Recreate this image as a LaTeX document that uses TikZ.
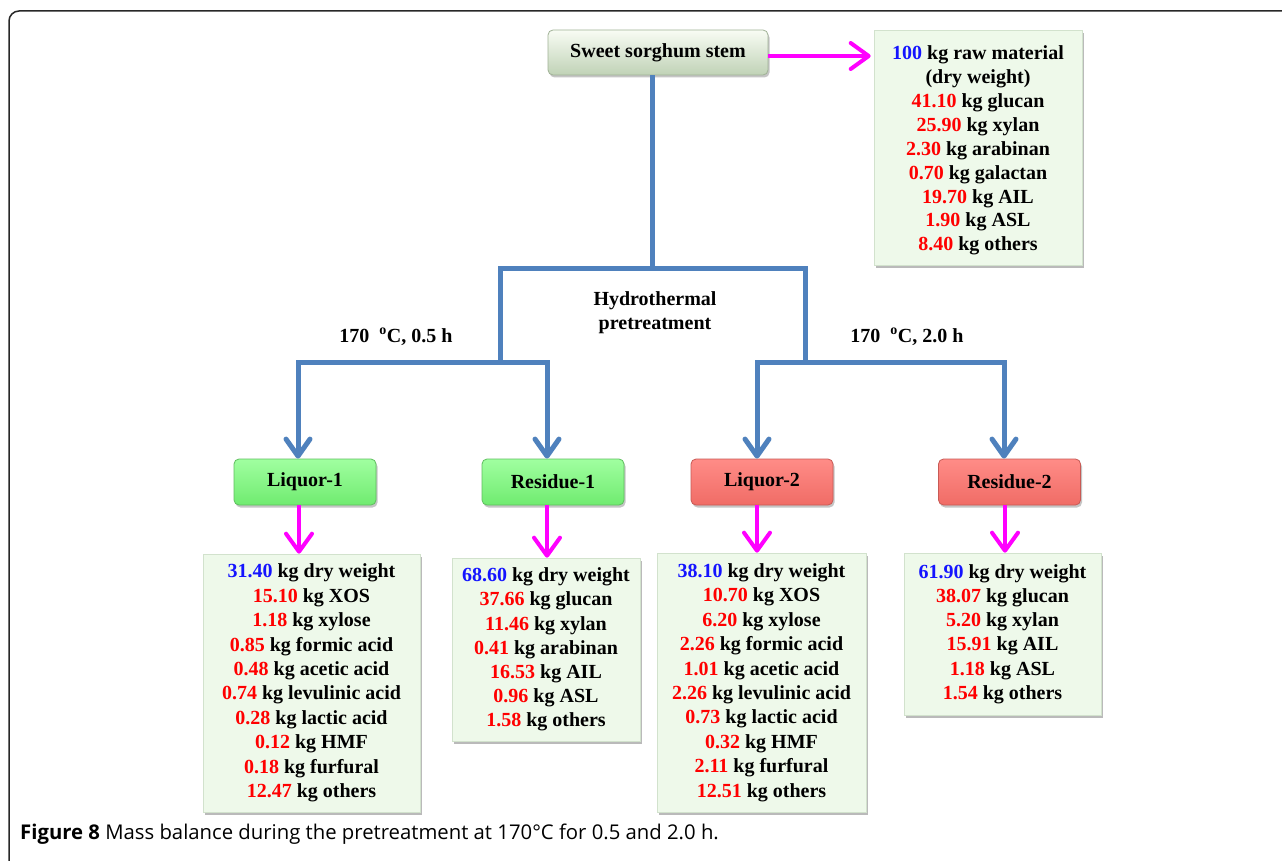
\documentclass[tikz,border=0pt]{standalone}
\usepackage{fontspec}
\setmainfont{Liberation Serif}
\newfontfamily\captfont{Open Sans}
\usetikzlibrary{arrows.meta,shadows}
\definecolor{lineblue}{RGB}{79,129,189}
\definecolor{mag}{RGB}{255,0,255}
\definecolor{numred}{RGB}{255,0,0}
\definecolor{numblue}{RGB}{20,20,255}
\definecolor{datafill}{RGB}{238,249,234}
\definecolor{dataline}{RGB}{210,226,205}
\definecolor{frameclr}{RGB}{40,40,40}
\newcommand{\nr}[1]{\textcolor{numred}{#1}}
\newcommand{\nb}[1]{\textcolor{numblue}{#1}}
\begin{document}
\begin{tikzpicture}[x=1pt,y=-1pt,
  txt/.style={font=\fontsize{20}{24.2}\selectfont\bfseries, align=center, inner sep=0pt},
  databox/.style={txt, draw=dataline, line width=0.6pt, fill=datafill,
    drop shadow={shadow xshift=2pt, shadow yshift=-3pt, fill=black!45, opacity=0.6}},
  tenline/.style={font=\fontsize{20}{24.4}\selectfont\bfseries},
  catbox/.style={txt, rounded corners=5pt, line width=0.8pt, minimum width=142, minimum height=46,
    drop shadow={shadow xshift=1.5pt, shadow yshift=-2.5pt, fill=black!45, opacity=0.5}},
  greenbox/.style={catbox, draw={rgb,255:red,95;green,190;blue,95}, top color={rgb,255:red,160;green,255;blue,160}, bottom color={rgb,255:red,112;green,235;blue,112}},
  redbox/.style={catbox, draw={rgb,255:red,200;green,90;blue,85}, top color={rgb,255:red,255;green,140;blue,135}, bottom color={rgb,255:red,240;green,108;blue,102}},
  stembox/.style={catbox, minimum width=220, minimum height=45, draw={rgb,255:red,160;green,178;blue,150}, top color={rgb,255:red,248;green,252;blue,244}, bottom color={rgb,255:red,192;green,210;blue,182}},
  bline/.style={draw=lineblue, line width=5pt, line join=miter},
  barrow/.style={bline, -{Straight Barb[length=17pt, width=24pt, round]}},
  marrow/.style={draw=mag, line width=4pt, -{Straight Barb[length=18pt, width=26pt, round]}},
  lbl/.style={font=\fontsize{20}{24}\selectfont\bfseries, align=center, inner sep=0pt}
]
\useasboundingbox (0,0) rectangle (1282,861);
\fill[white] (0,0) rectangle (1282,861);
\draw[frameclr, line width=1.5pt, rounded corners=10pt] (9,870) -- (9,11) -- (1290,11);

% category nodes
\node[stembox] (stem) at (658,52.5) {\raisebox{-1pt}{Sweet sorghum stem}};
\node[greenbox] (liq1) at (305,482) {\raisebox{-1.5pt}{Liquor-1}};
\node[greenbox] (res1) at (553,482) {\raisebox{-1.5pt}{Residue-1}};
\node[redbox] (liq2) at (762,482) {\raisebox{-1.5pt}{Liquor-2}};
\node[redbox] (res2) at (1009.5,482) {\raisebox{-1.5pt}{Residue-2}};

% data boxes
\node[databox, minimum width=208, minimum height=235, font=\fontsize{20}{23.9}\selectfont\bfseries] (raw) at (978,147.5) {%
\rule{0pt}{20pt}\nb{100} kg raw material\\(dry weight)\\\nr{41.10} kg glucan\\\nr{25.90} kg xylan\\\nr{2.30} kg arabinan\\\nr{0.70} kg galactan\\\nr{19.70} kg AIL\\\nr{1.90} kg ASL\\\nr{8.40} kg others};
\node[databox, tenline, minimum width=217, minimum height=258] (d1) at (311.5,683) {%
\nb{31.40} kg dry weight\\\nr{15.10} kg XOS\\\nr{1.18} kg xylose\\\nr{0.85} kg formic acid\\\nr{0.48} kg acetic acid\\\nr{0.74} kg levulinic acid\\\nr{0.28} kg lactic acid\\\nr{0.12} kg HMF\\\nr{0.18} kg furfural\\\nr{12.47} kg others};
\node[databox, minimum width=188, minimum height=183] (d2) at (546,649.5) {%
\nb{68.60} kg dry weight\\\nr{37.66} kg glucan\\\nr{11.46} kg xylan\\\nr{0.41} kg arabinan\\\nr{16.53} kg AIL\\\nr{0.96} kg ASL\\\nr{1.58} kg others};
\node[databox, tenline, minimum width=209, minimum height=259] (d3) at (761.5,682.5) {%
\nb{38.10} kg dry weight\\\nr{10.70} kg XOS\\\nr{6.20} kg xylose\\\nr{2.26} kg formic acid\\\nr{1.01} kg acetic acid\\\nr{2.26} kg levulinic acid\\\nr{0.73} kg lactic acid\\\nr{0.32} kg HMF\\\nr{2.11} kg furfural\\\nr{12.51} kg others};
\node[databox, minimum width=197, minimum height=162] (d4) at (1002.5,634) {%
\nb{61.90} kg dry weight\\\nr{38.07} kg glucan\\\nr{5.20} kg xylan\\\nr{15.91} kg AIL\\\nr{1.18} kg ASL\\\nr{1.54} kg others};

% labels
\node[lbl] (hyd) at (655,313) {Hydrothermal\\pretreatment};
\node[lbl] (c1) at (396,337) {170 \ \textsuperscript{o}C, 0.5 h};
\node[lbl] (c2) at (907,337) {170 \ \textsuperscript{o}C, 2.0 h};

% blue tree
\coordinate (j0) at (652,268);
\coordinate (jl) at (500,268);
\coordinate (jr) at (805,268);
\coordinate (jl2) at (500,362);
\coordinate (jr2) at (805,362);
\coordinate (b1) at (298,362);
\coordinate (b2) at (547,362);
\coordinate (b3) at (757,362);
\coordinate (b4) at (1004,362);
\draw[bline] (j0 |- stem.south) -- (j0);
\draw[bline] (jl2) -- (jl) -- (jr) -- (jr2);
\draw[barrow] (jl2) -- (b1) -- (b1 |- liq1.north);
\draw[barrow] (jl2) -- (b2) -- (b2 |- res1.north);
\draw[barrow] (jr2) -- (b3) -- (b3 |- liq2.north);
\draw[barrow] (jr2) -- (b4) -- (b4 |- res2.north);

% magenta arrows
\coordinate (m0) at (0,56);
\coordinate (m1) at (299,0);
\coordinate (m2) at (547,0);
\coordinate (m3) at (757,0);
\coordinate (m4) at (1005,0);
\draw[marrow] (stem.east |- m0) -- ([xshift=-3pt]raw.west |- m0);
\draw[marrow] (m1 |- liq1.south) -- (m1 |- d1.north);
\draw[marrow] (m2 |- res1.south) -- (m2 |- d2.north);
\draw[marrow] (m3 |- liq2.south) -- (m3 |- d3.north);
\draw[marrow] (m4 |- res2.south) -- (m4 |- d4.north);

% caption
\node[anchor=west, inner sep=0pt, font=\captfont\fontsize{20.3}{24}\selectfont] (cap) at (20,834) {\textbf{Figure 8} Mass balance during the pretreatment at 170°C for 0.5 and 2.0 h.};
\end{tikzpicture}
\end{document}
